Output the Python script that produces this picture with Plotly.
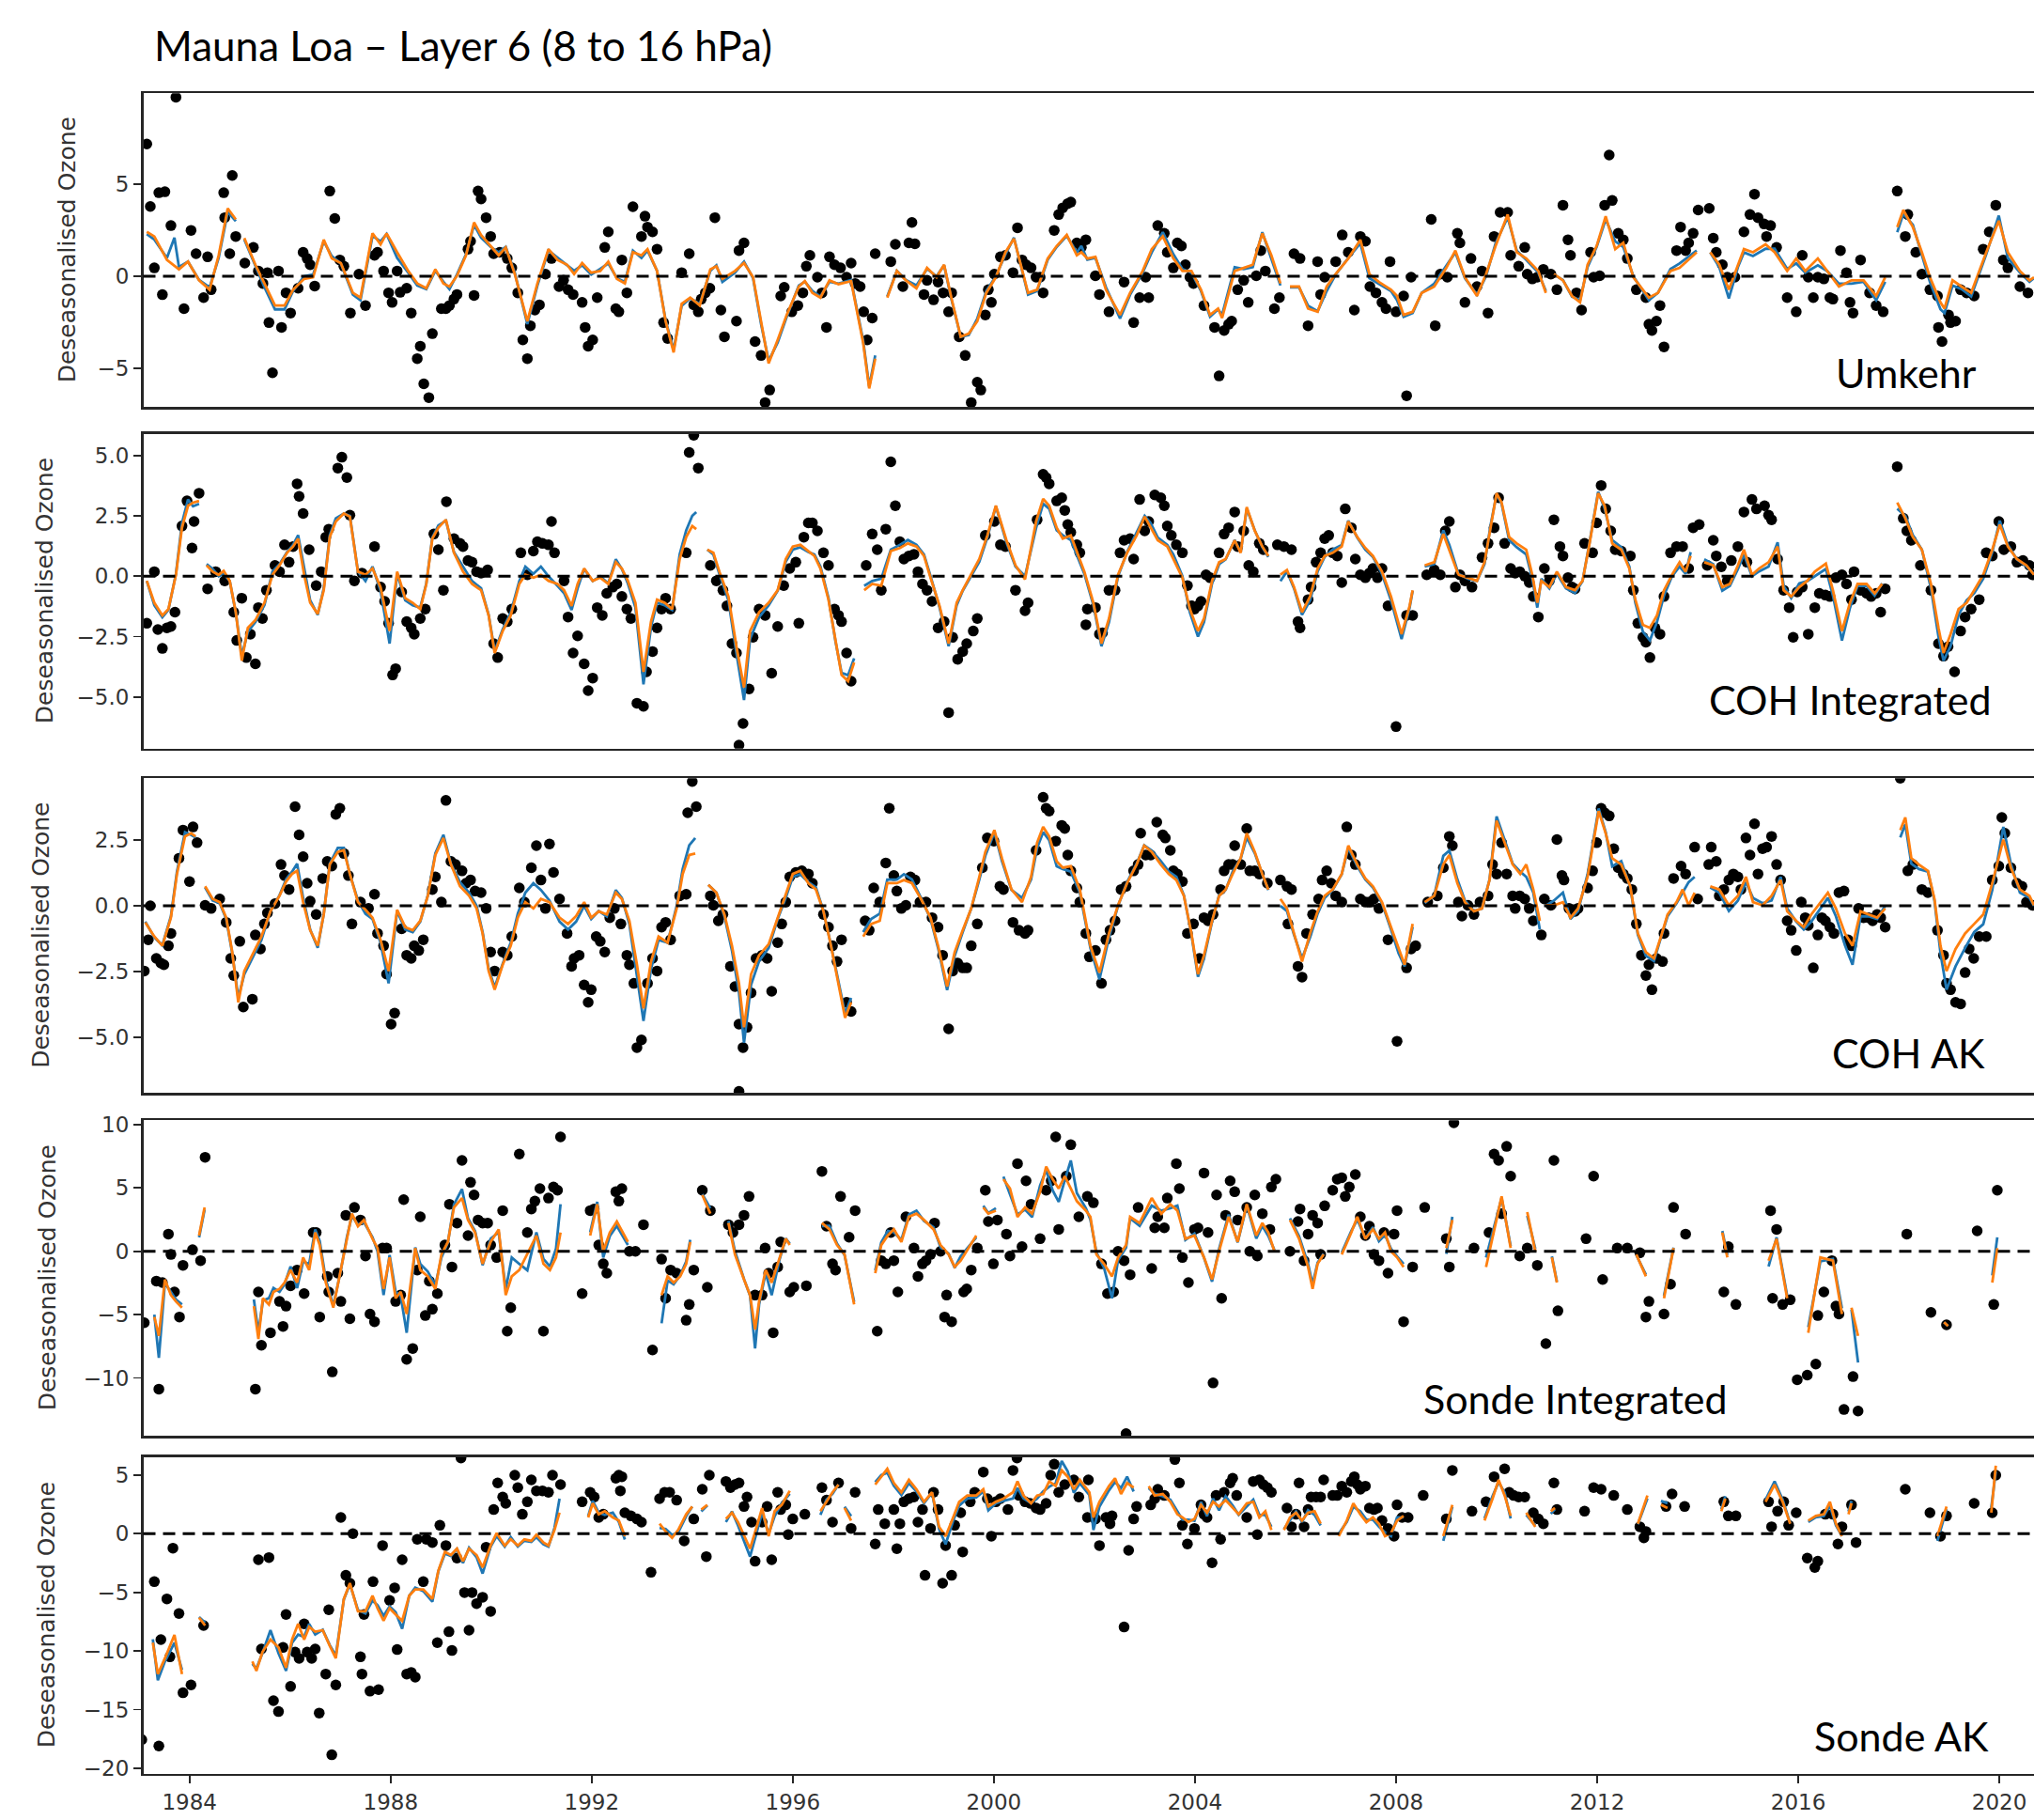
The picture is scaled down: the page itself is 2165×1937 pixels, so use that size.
import plotly.graph_objects as go

# ---------------- DATA (decimal year, deseasonalised ozone) ----------------
PANEL_NAMES = ["Umkehr", "COH Integrated", "COH AK", "Sonde Integrated", "Sonde AK"]
TITLE = "Mauna Loa – Layer 6 (8 to 16 hPa)"
Y_LABEL = "Deseasonalised Ozone"
X_TICKS = [1984, 1988, 1992, 1996, 2000, 2004, 2008, 2012, 2016, 2020]
Y_TICKS = [[-5, 0, 5], [-5, -2.5, 0, 2.5, 5], [-5, -2.5, 0, 2.5], [-10, -5, 0, 5, 10], [-20, -15, -10, -5, 0, 5]]
Y_TICKTEXT = [["−5", "0", "5"], ["−5.0", "−2.5", "0.0", "2.5", "5.0"], ["−5.0", "−2.5", "0.0", "2.5"],
              ["−10", "−5", "0", "5", "10"], ["−20", "−15", "−10", "−5", "0", "5"]]
Y_RANGES = [[-7.12, 9.96], [-7.14, 5.9], [-7.12, 4.85], [-14.58, 10.34], [-20.47, 6.54]]
X_RANGE = [1983.08, 2020.69]

UMK_DOTS = [
(1983.15,7.2),(1983.73,9.75),(1983.22,3.8),(1983.39,4.55),(1983.51,4.6),(1983.30,0.46),(1983.46,-1.0),(1983.63,2.76),
(1983.89,-1.76),(1984.03,2.5),(1984.13,1.23),(1984.28,-1.16),(1984.36,1.06),(1984.43,-0.73),(1984.68,4.55),(1984.70,3.19),
(1984.85,5.49),(1984.92,2.17),(1984.80,1.23),(1985.10,0.72),(1985.27,1.57),(1985.37,0.29),(1985.46,-0.39),(1985.55,0.2),
(1985.65,-5.25),(1985.58,-2.52),(1985.77,0.29),(1985.83,-2.78),(1985.92,-0.9),(1986.01,-2.0),(1986.16,-0.65),(1986.26,1.31),
(1986.34,0.97),(1986.40,0.63),(1986.49,-0.53),(1986.79,4.64),(1986.89,3.15),(1986.99,0.89),(1987.07,0.55),(1987.20,-2.0),
(1987.37,0.12),(1987.50,-1.59),(1987.68,1.14),(1987.74,1.31),(1987.86,0.29),(1987.96,-0.9),(1988.03,-1.42),(1988.13,0.29),
(1988.19,-0.87),(1988.32,-0.65),(1988.41,-2.0),(1988.53,-4.48),(1988.59,-3.8),(1988.66,-5.85),(1988.76,-6.6),(1988.83,-3.12),
(1989.01,-1.76),(1989.10,-1.76),(1989.17,-1.59),(1989.26,-1.24),(1989.32,-0.99),(1989.54,1.48),(1989.59,1.91),(1989.66,-1.04),
(1989.74,4.64),(1989.80,4.21),(1989.90,3.19),(1989.99,2.17),(1990.05,1.23),(1990.17,1.31),(1990.32,0.97),(1990.41,0.46),
(1990.53,-0.9),(1990.63,-3.46),(1990.72,-4.48),(1990.78,-2.69),(1990.87,-1.84),(1990.96,-1.55),(1991.08,0.12),(1991.20,0.97),
(1991.35,-0.56),(1991.44,-0.22),(1991.53,-0.73),(1991.63,-0.99),(1991.81,-1.42),(1991.87,-2.78),(1991.93,-3.8),(1992.02,-3.46),
(1992.11,-1.16),(1992.26,1.57),(1992.33,2.42),(1992.48,-1.76),(1992.54,-1.93),(1992.60,0.89),(1992.70,-0.9),(1992.82,3.79),
(1992.99,2.17),(1993.06,3.27),(1993.11,2.68),(1993.21,2.42),(1993.30,1.48),(1993.43,-2.52),(1993.51,-3.38),(1993.79,0.2),
(1993.94,1.23),(1994.03,-1.55),(1994.12,-1.93),(1994.18,-1.24),(1994.26,-0.9),(1994.35,-0.65),(1994.45,3.19),(1994.57,-1.84),
(1994.64,-3.29),(1994.88,-2.44),(1994.93,1.4),(1995.03,1.82),(1995.25,-3.55),(1995.37,-4.31),(1995.45,-6.87),(1995.54,-6.19),
(1995.76,-1.07),(1995.83,-0.6),(1995.98,-1.93),(1996.10,-1.59),(1996.20,-0.9),(1996.27,0.55),(1996.34,1.14),(1996.49,-0.05),
(1996.58,-0.9),(1996.67,-2.78),(1996.73,1.06),(1996.83,0.63),(1996.95,0.46),(1997.07,-0.05),(1997.16,0.72),(1997.24,-0.39),
(1997.34,-0.56),(1997.41,-1.93),(1997.48,-3.46),(1997.58,-2.27),(1997.64,1.23),(1997.95,0.8),(1998.04,1.74),(1998.19,-0.56),
(1998.31,1.82),(1998.37,2.93),(1998.43,1.77),(1998.61,-0.99),(1998.67,-0.22),(1998.80,-1.28),(1998.89,-0.31),(1998.99,-0.9),
(1999.10,-1.93),(1999.16,-0.9),(1999.31,-3.29),(1999.43,-4.31),(1999.55,-6.87),(1999.67,-5.76),(1999.74,-6.19),(1999.83,-2.1),
(1999.89,-0.73),(1999.95,-1.42),(2000.01,0.12),(2000.13,1.06),(2000.23,1.14),(2000.38,0.2),(2000.47,2.64),(2000.56,0.89),
(2000.64,0.63),(2000.74,0.46),(2000.84,-0.05),(2000.92,-0.05),(2000.98,-0.9),(2001.20,2.5),(2001.29,3.36),(2001.37,3.73),
(2001.47,3.96),(2001.53,4.04),(2001.65,1.82),(2001.74,1.57),(2001.83,1.99),
(2002.02,0.03),(2002.10,-0.99),(2002.29,-1.93),(2002.59,-0.31),(2002.78,-2.52),(2002.90,-1.16),(2003.02,-0.05),(2003.08,-1.16),
(2003.26,2.76),(2003.39,2.34),(2003.45,1.31),(2003.57,0.46),(2003.65,1.82),(2003.73,1.65),(2003.81,0.63),(2003.90,-0.05),
(2003.97,-0.39),(2004.18,-1.59),(2004.39,-2.78),(2004.48,-5.42),(2004.58,-2.95),(2004.67,-2.61),(2004.73,-2.44),(2004.85,-0.73),
(2004.97,-0.22),(2005.06,-1.42),(2005.22,0.03),(2005.31,1.4),(2005.40,0.29),(2005.58,-1.76),(2005.68,-1.16),(2005.97,1.23),
(2006.09,0.97),(2006.25,-2.69),(2006.44,0.8),(2006.50,-0.99),(2006.58,-0.05),(2006.80,0.8),(2006.93,2.25),(2007.05,1.31),
(2007.17,-1.84),(2007.29,2.17),(2007.39,1.91),(2007.48,-0.56),(2007.60,-0.9),(2007.72,-1.42),(2007.80,-1.76),(2007.88,0.8),
(2008.00,-1.93),(2008.15,-1.07),(2008.21,-6.5),(2008.30,-0.05),(2008.70,3.1),(2008.78,-2.69),(2008.88,0.12),(2009.02,-0.05),
(2009.22,2.34),(2009.27,1.82),(2009.37,-1.42),(2009.49,0.97),(2009.61,-0.56),(2009.71,0.29),(2009.83,-2.0),(2009.95,2.17),
(2010.07,3.48),(2010.22,3.48),(2010.28,1.14),(2010.44,0.55),(2010.56,1.57),(2010.61,0.12),(2010.71,-0.14),(2010.81,-0.05),
(2010.93,0.38),(2011.08,0.12),(2011.20,-0.73),(2011.32,3.87),(2011.42,1.99),(2011.47,1.14),(2011.59,-0.9),(2011.69,-1.84),
(2011.87,1.31),(2011.93,-0.05),(2012.05,0.03),(2012.15,3.87),(2012.24,6.6),(2012.30,4.13),(2012.42,2.34),(2012.52,1.99),
(2012.60,0.97),(2012.78,-0.73),(2012.97,-1.16),(2013.03,-2.61),(2013.09,-2.95),(2013.18,-2.44),(2013.25,-1.59),(2013.33,-3.84),
(2013.58,1.4),(2013.66,2.68),(2013.76,1.4),(2013.82,1.82),(2013.91,2.34),(2014.01,3.61),(2014.23,3.7),(2014.31,2.08),
(2014.37,1.31),(2014.49,0.63),(2014.59,-0.05),(2014.74,-0.05),(2014.92,2.42),(2015.04,3.36),(2015.13,4.47),(2015.20,3.19),
(2015.32,2.85),(2015.37,2.17),(2015.45,2.76),(2015.57,1.57),(2015.78,-1.16),(2015.96,-1.93),(2016.08,1.14),(2016.20,-0.05),
(2016.30,-1.16),(2016.39,-0.05),(2016.51,-0.14),(2016.63,-1.16),(2016.69,-1.24),(2016.84,1.4),(2016.96,0.2),(2017.03,-1.42),
(2017.09,-2.0),(2017.24,0.89),(2017.42,-0.9),(2017.55,-1.59),(2017.69,-1.93),(2017.97,4.64),(2018.13,2.17),(2018.18,3.36),
(2018.34,1.31),(2018.46,0.12),(2018.62,-0.73),(2018.77,-1.07),(2018.79,-2.78),(2018.86,-3.55),(2018.99,-2.1),(2019.03,-2.52),
(2019.13,-2.44),(2019.23,-0.73),(2019.35,-0.9),(2019.50,-1.07),(2019.68,1.48),(2019.80,2.42),(2019.93,3.87),(2020.08,0.89),
(2020.17,0.46),(2020.41,-0.56),(2020.57,-0.9)]

N = None
UMK_LINES = [  # (year, orange, blue)
(1983.15,2.42,2.3),(1983.30,2.17,2.0),(1983.55,0.89,1.0),(1983.70,0.55,2.1),(1983.79,0.38,0.5),(1983.97,0.80,0.8),
(1984.19,-0.22,-0.2),(1984.40,-0.73,-0.6),(1984.58,1.14,1.0),(1984.76,3.70,3.5),(1984.92,3.10,3.0),(N,N,N),
(1985.09,2.08,2.0),(1985.31,0.63,0.6),(1985.49,-0.39,-0.6),(1985.70,-1.59,-1.8),(1985.89,-1.59,-1.8),(1986.06,-0.73,-0.8),
(1986.28,-0.14,0.0),(1986.46,-0.05,0.1),(1986.67,1.99,1.9),(1986.83,0.97,1.1),(1987.01,0.72,0.7),(1987.25,-0.90,-1.0),
(1987.40,-1.16,-1.3),(1987.64,2.34,2.2),(1987.80,1.74,1.9),(1987.92,2.34,2.3),(1988.13,1.31,1.0),(1988.35,0.29,0.2),
(1988.53,-0.39,-0.5),(1988.71,-0.65,-0.7),(1988.89,0.38,0.3),(1989.05,-0.39,-0.3),(1989.17,-0.56,-0.7),(1989.32,0.03,0.1),
(1989.50,1.14,1.2),(1989.66,2.93,2.8),(1989.80,2.25,2.1),(1989.99,1.65,1.6),(1990.15,1.14,1.3),(1990.29,1.57,1.6),
(1990.47,0.12,0.2),(1990.72,-2.44,-2.6),(1990.92,-0.39,-0.5),(1991.14,1.48,1.4),(1991.32,0.89,1.0),(1991.51,0.63,0.6),
(1991.65,0.12,0.3),(1991.81,0.72,0.6),(1991.99,0.20,0.1),(1992.17,0.29,0.4),(1992.33,0.80,0.7),(1992.50,-0.14,-0.1),
(1992.66,-0.39,-0.3),(1992.82,1.31,1.4),(1992.99,1.14,1.0),(1993.11,1.48,1.4),(1993.30,0.29,0.3),(1993.47,-2.44,-2.4),
(1993.63,-4.14,-4.0),(1993.79,-1.50,-1.6),(1993.96,-1.16,-1.2),(1994.15,-1.59,-1.5),(1994.36,0.38,0.3),(1994.48,0.55,0.6),
(1994.60,-0.14,-0.3),(1994.85,0.29,0.2),(1995.03,0.72,0.8),(1995.21,-0.05,-0.1),(1995.37,-2.44,-2.6),(1995.52,-4.74,-4.6),
(1995.70,-3.46,-3.6),(1995.88,-2.10,-2.2),(1996.12,-0.56,-0.5),(1996.24,-0.26,-0.3),(1996.39,-0.90,-0.8),(1996.55,-1.16,-1.1),
(1996.73,-0.22,-0.3),(1996.91,-0.43,-0.4),(1997.16,-0.26,-0.2),(1997.40,-3.63,-3.5),(1997.52,-6.10,-6.0),(1997.64,-4.48,-4.3),
(N,N,N),
(1997.88,-1.16,-1.1),(1998.07,0.29,0.3),(1998.25,-0.22,-0.2),(1998.46,-0.65,-0.5),(1998.67,0.46,0.4),(1998.86,-0.05,0.0),
(1999.01,0.63,0.6),(1999.16,-1.24,-1.3),(1999.34,-3.29,-3.3),(1999.50,-3.12,-3.2),(1999.67,-2.44,-2.3),(1999.85,-0.90,-0.8),
(2000.04,-0.05,0.0),(2000.23,1.31,1.2),(2000.40,2.05,2.1),(2000.68,-0.90,-1.0),(2000.86,-0.73,-0.8),(2001.07,0.97,0.9),
(2001.25,1.65,1.6),(2001.45,2.25,2.2),(2001.65,1.14,1.3),(2001.74,1.31,1.65),(2001.86,0.97,0.9),(2002.02,1.06,1.0),
(2002.23,-0.73,-0.6),(2002.51,-2.10,-2.3),(2002.71,-0.90,-1.0),(2002.96,0.29,0.2),(2003.14,1.48,1.3),(2003.36,2.17,2.4),
(2003.57,0.97,1.2),(2003.75,0.29,0.4),(2003.93,0.29,0.2),(2004.12,-0.73,-0.8),(2004.30,-2.10,-2.2),(2004.46,-1.76,-1.8),
(2004.54,-2.27,-2.1),(2004.79,0.29,0.5),(2004.97,0.46,0.4),(2005.15,0.63,0.5),(2005.34,2.34,2.4),(2005.52,1.14,1.0),
(2005.70,-0.39,-0.5),(N,N,N),
(2005.89,-0.56,-0.6),(2006.07,-0.56,-0.6),(2006.25,-1.76,-1.6),(2006.44,-1.93,-1.9),(2006.62,-0.56,-0.8),(2006.80,0.12,0.1),
(2007.05,0.97,1.0),(2007.29,1.99,1.8),(2007.47,0.12,-0.1),(2007.66,-0.31,-0.4),(2007.90,-0.73,-0.8),(2008.02,-1.07,-1.3),
(2008.15,-2.10,-2.2),(2008.33,-1.93,-2.0),(2008.51,-0.90,-0.9),(2008.76,-0.56,-0.4),(2009.00,0.46,0.6),(2009.18,1.40,1.3),
(2009.37,-0.05,-0.1),(2009.61,-1.07,-1.0),(2009.79,0.12,0.0),(2009.98,1.65,1.8),(2010.22,3.36,3.2),(2010.40,1.31,1.4),
(2010.59,0.97,0.9),(2010.83,0.29,0.2),(2010.98,-0.90,-0.8),(N,N,N),
(2011.14,0.12,0.1),(2011.32,-0.22,-0.2),(2011.50,-1.07,-1.1),(2011.66,-1.42,-1.3),(2011.81,0.63,0.5),(2011.99,1.65,1.6),
(2012.17,3.27,3.1),(2012.36,1.48,1.9),(2012.52,1.82,1.6),(2012.72,-0.05,0.0),(2013.03,-1.16,-1.3),(2013.21,-0.90,-0.9),
(2013.46,0.29,0.4),(2013.64,0.46,0.7),(2013.98,1.31,1.4),(N,N,N),
(2014.25,1.31,1.3),(2014.43,0.63,0.5),(2014.62,-0.73,-1.2),(2014.80,0.63,0.5),(2014.92,1.48,1.3),(2015.10,1.31,1.1),
(2015.35,1.74,1.5),(2015.53,1.31,1.5),(2015.78,0.29,0.4),(2015.96,0.97,0.7),(2016.14,0.29,0.2),(2016.39,0.97,0.6),
(2016.57,0.29,0.3),(2016.81,-0.56,-0.4),(2017.06,-0.22,-0.4),(2017.30,-0.22,-0.3),(2017.55,-1.07,-1.3),(2017.73,-0.05,-0.3),
(N,N,N),
(2017.97,2.68,2.4),(2018.09,3.61,3.4),(2018.28,2.68,2.8),(2018.46,1.31,1.2),(2018.62,-0.05,-0.3),(2018.83,-1.42,-1.8),
(2018.91,-1.76,-2.0),(2019.07,-0.22,-0.5),(2019.25,-0.56,-0.7),(2019.44,-0.90,-1.1),(2019.74,1.31,1.2),(2019.99,3.02,3.3),
(2020.17,1.31,1.0),(2020.41,0.29,0.2),(2020.60,-0.22,-0.3),(2020.69,-0.05,-0.1)]

COHI_DOTS = [
(1983.15,-1.95),(1983.30,0.19),(1983.37,-2.21),(1983.46,-2.99),(1983.55,-2.14),(1983.63,-2.08),(1983.71,-1.49),(1983.85,2.08),
(1983.95,3.12),(1984.05,1.17),(1984.09,2.27),(1984.19,3.44),(1984.36,-0.52),(1984.52,0.19),(1984.70,-0.19),(1984.88,-1.49),
(1984.94,-2.66),(1985.04,-0.91),(1985.13,-3.37),(1985.21,-2.4),(1985.31,-3.63),(1985.37,-1.3),(1985.45,-1.75),(1985.53,-0.58),
(1985.70,0.45),(1985.79,0.19),(1985.89,1.3),(1985.98,0.58),(1986.06,1.23),(1986.14,3.83),(1986.18,3.31),(1986.26,2.6),
(1986.38,1.1),(1986.52,-0.39),(1986.62,0.19),(1986.71,1.62),(1986.77,1.95),(1986.95,4.48),(1987.03,4.93),(1987.13,4.09),
(1987.19,2.53),(1987.28,-0.19),(1987.43,0.13),(1987.68,1.23),(1987.80,-0.45),(1987.88,-1.04),(1987.96,-1.95),(1988.04,-4.09),
(1988.10,-3.83),(1988.22,-0.65),(1988.32,-1.88),(1988.41,-2.14),(1988.47,-2.4),(1988.59,-1.75),(1988.69,-1.36),(1988.86,1.75),
(1988.95,1.1),(1989.05,-0.58),(1989.11,3.09),(1989.26,1.56),(1989.38,1.36),(1989.44,1.23),(1989.54,0.65),(1989.62,0.58),
(1989.71,0.19),(1989.80,0.13),(1989.93,0.26),(1990.05,-2.79),(1990.13,-3.37),(1990.23,-1.75),(1990.32,-1.88),(1990.41,-1.36),
(1990.59,0.97),(1990.72,0.06),(1990.84,1.04),(1990.92,1.43),(1991.02,1.36),(1991.14,1.3),(1991.20,2.27),(1991.26,0.97),
(1991.45,-0.19),(1991.53,-1.69),(1991.63,-3.18),(1991.72,-2.47),(1991.85,-3.63),(1991.93,-4.74),(1992.02,-4.22),(1992.11,-1.3),
(1992.21,-1.62),(1992.30,-0.71),(1992.42,-0.45),(1992.50,-0.32),(1992.60,-0.84),(1992.70,-1.36),(1992.78,-1.75),(1992.90,-5.26),
(1993.03,-5.39),(1993.09,-3.96),(1993.21,-3.12),(1993.30,-2.14),(1993.39,-1.36),(1993.47,-0.91),(1993.57,-1.36),(1993.88,0.97),
(1993.94,5.13),(1994.03,5.84),(1994.12,4.48),(1994.36,0.45),(1994.48,-0.19),(1994.61,-0.58),(1994.69,-1.23),(1994.79,-2.79),
(1994.88,-3.18),(1995.01,-6.1),(1994.93,-7.0),(1995.13,-4.67),(1995.21,-2.53),(1995.33,-1.36),(1995.45,-1.62),(1995.58,-4.02),
(1995.70,-2.08),(1995.82,-0.39),(1995.94,0.32),(1996.06,0.58),(1996.12,-1.95),(1996.22,1.62),(1996.31,2.21),(1996.39,2.21),
(1996.49,1.88),(1996.61,0.97),(1996.71,0.45),(1996.83,-1.36),(1996.91,-1.62),(1996.97,-1.88),(1997.07,-3.18),(1997.16,-4.35),
(1997.46,0.45),(1997.58,1.75),(1997.68,1.1),(1997.76,-0.58),(1997.85,1.95),(1997.95,4.74),(1998.04,2.92),(1998.13,1.43),
(1998.21,0.71),(1998.31,0.84),(1998.41,0.91),(1998.49,0.19),(1998.58,-0.32),(1998.67,-0.58),(1998.77,-1.04),(1998.89,-2.14),
(1999.01,-1.88),(1999.10,-5.65),(1999.18,-2.53),(1999.28,-3.44),(1999.38,-3.12),(1999.46,-2.79),(1999.59,-2.27),(1999.67,-1.75),
(1999.83,1.69),(2000.01,2.27),(2000.13,1.3),(2000.23,1.23),(2000.43,-0.58),(2000.62,-1.43),(2000.68,-1.1),(2000.86,2.34),
(2000.98,4.22),(2001.04,4.09),(2001.10,3.83),(2001.25,3.12),(2001.35,3.25),(2001.41,2.73),(2001.47,2.14),(2001.53,1.82),
(2001.65,1.3),(2001.71,0.97),(2001.83,-2.01),
(2001.86,-1.36),(2002.02,-1.3),(2002.10,-2.4),(2002.16,-2.34),(2002.29,-0.58),(2002.41,-0.58),(2002.51,0.97),(2002.59,1.49),
(2002.71,1.56),(2002.78,0.71),(2002.90,3.18),(2003.00,1.88),(2003.08,2.27),(2003.20,3.37),(2003.32,3.25),(2003.39,2.92),
(2003.45,2.08),(2003.53,1.69),(2003.63,1.3),(2003.75,0.97),(2003.85,-0.39),(2003.93,-1.23),(2003.99,-1.36),(2004.06,-1.23),
(2004.12,-1.04),(2004.22,0.06),(2004.30,-0.06),(2004.48,0.97),(2004.58,1.75),(2004.67,2.01),(2004.79,2.66),(2004.85,1.23),
(2004.97,1.88),(2005.07,0.45),(2005.16,0.19),(2005.28,1.36),(2005.36,1.1),(2005.64,1.3),(2005.77,1.23),(2005.92,1.1),
(2006.05,-1.88),(2006.09,-2.14),(2006.25,-0.97),(2006.31,-0.45),(2006.41,0.58),(2006.50,0.97),(2006.58,1.56),(2006.66,1.69),
(2006.74,0.97),(2006.83,0.84),(2006.92,-0.26),(2006.99,2.79),(2007.11,2.01),(2007.19,0.71),(2007.29,0.06),(2007.39,-0.06),
(2007.47,0.13),(2007.54,0.32),(2007.63,-0.06),(2007.72,0.32),(2007.84,-1.23),(2008.00,-6.23),(2008.21,-1.62),(2008.33,-1.62),
(2008.61,0.06),(2008.76,0.26),(2008.88,0.06),(2008.98,1.88),(2009.06,2.27),(2009.18,-0.45),(2009.27,0.06),(2009.37,-0.19),
(2009.51,-0.45),(2009.71,0.78),(2009.83,1.36),(2009.95,2.01),(2010.04,3.25),(2010.16,1.36),(2010.28,0.32),(2010.37,0.13),
(2010.46,0.19),(2010.56,0.0),(2010.65,-0.26),(2010.73,-0.84),(2010.83,-1.69),(2010.95,0.32),(2011.05,-0.19),(2011.14,2.34),
(2011.26,1.23),(2011.32,0.84),(2011.42,-0.06),(2011.50,-0.45),(2011.56,-0.52),(2011.75,1.36),(2011.91,0.97),(2011.99,2.21),
(2012.08,3.76),(2012.17,2.79),(2012.27,1.88),(2012.36,1.1),(2012.48,1.04),(2012.66,0.84),(2012.72,-0.58),(2012.81,-1.95),
(2012.91,-2.53),(2012.97,-2.73),(2013.05,-3.37),(2013.15,-2.14),(2013.25,-2.4),(2013.33,-0.84),(2013.46,0.97),(2013.58,1.23),
(2013.70,1.23),(2013.82,0.32),(2013.91,2.01),(2014.03,2.14),(2014.19,0.45),(2014.31,1.49),(2014.37,0.84),(2014.47,0.39),
(2014.59,-0.19),(2014.67,0.65),(2014.80,1.23),(2014.92,2.66),(2014.98,0.58),(2015.08,3.18),(2015.17,2.79),(2015.33,2.92),
(2015.41,2.53),(2015.47,2.34),(2015.59,0.71),(2015.71,-0.58),(2015.82,-1.3),(2015.90,-2.53),(2015.98,-0.65),(2016.08,-0.45),
(2016.20,-2.4),(2016.33,-1.3),(2016.42,-0.71),(2016.54,-0.78),(2016.63,-0.84),(2016.75,-0.06),(2016.87,0.06),(2016.96,-0.32),
(2017.06,-0.97),(2017.11,0.19),(2017.24,-0.58),(2017.36,-0.71),(2017.45,-0.84),(2017.55,-0.71),(2017.64,-1.49),(2017.73,-0.52),
(2017.97,4.54),(2018.09,2.4),(2018.16,1.88),(2018.25,1.49),(2018.43,0.45),(2018.64,-0.58),(2018.79,-2.79),(2018.89,-3.31),
(2018.98,-2.92),(2019.11,-3.96),(2019.23,-2.27),(2019.32,-1.69),(2019.44,-1.36),(2019.60,-0.97),(2019.74,0.97),(2019.86,0.84),
(2019.99,2.27),(2020.09,1.1),(2020.23,1.23),(2020.35,0.58),(2020.47,0.65),(2020.60,0.45),(2020.66,0.06)]

COHI_LINES = [
(1983.15,-0.19,-0.2),(1983.30,-1.10,-1.2),(1983.46,-1.62,-1.7),(1983.58,-1.36,-1.4),(1983.73,0.06,0.1),(1983.85,2.01,2.2),
(1983.97,2.92,3.18),(1984.07,3.05,2.9),(1984.19,3.12,3.0),(N,N,N),
(1984.34,0.45,0.5),(1984.46,0.19,0.3),(1984.58,0.06,0.0),(1984.68,0.22,0.1),(1984.80,-0.19,-0.2),(1984.92,-1.49,-1.5),
(1985.04,-3.50,-3.3),(1985.16,-2.14,-2.3),(1985.31,-1.82,-1.9),(1985.49,-1.10,-1.2),(1985.65,0.06,0.2),(1985.79,0.45,0.5),
(1985.94,0.97,1.0),(1986.06,1.23,1.3),(1986.16,1.56,1.7),(1986.28,0.06,0.3),(1986.40,-1.10,-1.0),(1986.55,-1.56,-1.6),
(1986.67,-0.58,-0.5),(1986.79,1.62,1.7),(1986.91,2.27,2.4),(1987.07,2.60,2.6),(1987.19,2.47,2.5),(1987.35,0.19,0.2),
(1987.50,0.06,-0.2),(1987.64,0.32,0.4),(1987.80,-0.45,-0.6),(1987.98,-2.27,-2.79),(1988.13,0.19,0.1),(1988.29,-0.91,-1.0),
(1988.44,-1.10,-1.2),(1988.59,-1.36,-1.3),(1988.71,-0.32,-0.3),(1988.83,1.56,1.6),(1988.95,2.01,2.1),(1989.10,2.34,2.3),
(1989.26,0.97,1.0),(1989.44,0.19,0.4),(1989.62,-0.32,-0.2),(1989.80,-0.58,-0.5),(1989.95,-1.62,-1.6),(1990.07,-3.18,-3.1),
(1990.23,-2.27,-2.2),(1990.39,-1.62,-1.5),(1990.56,-0.32,-0.2),(1990.68,0.06,0.4),(1990.84,-0.06,0.1),(1990.99,0.06,0.4),
(1991.14,-0.19,0.0),(1991.32,-0.32,-0.4),(1991.45,-0.58,-0.7),(1991.60,-1.23,-1.4),(1991.72,-0.32,-0.5),(1991.85,0.32,0.3),
(1992.02,-0.19,-0.2),(1992.17,-0.06,0.0),(1992.33,-0.32,-0.3),(1992.48,0.58,0.7),(1992.60,0.32,0.3),(1992.72,-0.19,-0.3),
(1992.87,-1.10,-1.3),(1993.03,-3.96,-4.48),(1993.18,-1.88,-2.1),(1993.30,-0.97,-1.1),(1993.45,-1.10,-1.2),(1993.60,-1.36,-1.4),
(1993.75,0.71,0.9),(1993.88,1.62,1.9),(1994.00,2.08,2.5),(1994.08,1.95,2.66),(N,N,N),
(1994.30,1.10,1.1),(1994.42,0.97,0.9),(1994.54,0.19,0.1),(1994.72,-0.84,-1.0),(1994.88,-2.92,-3.2),(1995.03,-4.61,-5.13),
(1995.15,-2.27,-2.6),(1995.33,-1.49,-1.7),(1995.52,-1.10,-1.2),(1995.70,-0.58,-0.6),(1995.86,0.71,0.6),(1996.00,1.23,1.1),
(1996.15,1.30,1.2),(1996.31,1.04,1.0),(1996.43,0.84,0.9),(1996.55,0.32,0.4),(1996.71,-0.97,-0.9),(1996.85,-2.66,-2.7),
(1996.97,-4.09,-4.0),(1997.10,-4.35,-4.1),(1997.22,-3.57,-3.4),(N,N,N),
(1997.42,-0.58,-0.4),(1997.58,-0.32,-0.2),(1997.76,-0.39,-0.1),(1997.95,1.04,1.1),(1998.13,1.17,1.3),(1998.29,1.36,1.5),
(1998.46,1.23,1.3),(1998.61,0.84,0.9),(1998.74,-0.06,0.0),(1998.92,-1.23,-1.3),(1999.10,-2.79,-2.9),(1999.26,-1.10,-1.2),
(1999.38,-0.58,-0.6),(1999.55,0.06,0.0),(1999.71,0.71,0.6),(1999.87,1.69,1.6),(2000.04,2.92,2.9),(2000.25,1.49,1.4),
(2000.43,0.45,0.4),(2000.62,-0.13,0.0),(2000.84,2.27,2.0),(2000.98,3.21,3.0),(2001.10,2.92,2.8),(2001.25,2.01,1.9),
(2001.37,1.56,1.7),(2001.53,1.69,1.5),(2001.80,0.19,0.1),(2001.98,-1.10,-1.2),(2002.14,-2.79,-2.9),(2002.29,-1.75,-1.9),
(2002.47,0.06,0.0),(2002.65,0.97,1.0),(2002.84,1.69,1.8),(2003.00,2.47,2.5),(2003.12,2.01,2.2),(2003.26,1.49,1.6),
(2003.45,1.23,1.3),(2003.57,0.71,0.9),(2003.75,-0.06,0.0),(2003.90,-1.36,-1.5),(2004.06,-2.27,-2.5),(2004.18,-1.75,-1.9),
(2004.34,-0.19,-0.3),(2004.48,0.58,0.5),(2004.61,0.71,0.7),(2004.79,1.49,1.5),(2004.91,0.97,1.0),(2005.03,2.86,2.8),
(2005.19,1.88,1.9),(2005.34,1.23,1.2),(2005.46,0.84,0.8),(N,N,N),
(2005.70,0.06,-0.2),(2005.83,0.26,0.2),(2005.97,-0.45,-0.5),(2006.13,-1.49,-1.6),(2006.29,-0.84,-1.0),(2006.44,0.32,0.2),
(2006.58,0.84,0.8),(2006.74,0.97,1.1),(2006.92,1.23,1.3),(2007.05,2.27,2.3),(2007.23,1.62,1.6),(2007.39,1.17,1.1),
(2007.54,0.84,0.8),(2007.72,0.19,0.1),(2007.90,-0.84,-1.0),(2008.11,-2.40,-2.6),(2008.27,-1.23,-1.3),(2008.33,-0.58,-0.6),
(N,N,N),
(2008.57,0.45,0.4),(2008.76,0.58,0.5),(2008.94,1.75,1.9),(2009.06,1.10,1.3),(2009.24,0.06,0.1),(2009.43,-0.06,-0.1),
(2009.61,-0.19,-0.2),(2009.76,0.58,0.5),(2009.88,2.01,2.1),(2010.00,3.44,3.4),(2010.10,3.05,3.0),(2010.25,1.62,1.5),
(2010.40,1.36,1.2),(2010.59,1.10,0.9),(2010.71,0.06,-0.1),(2010.81,-1.10,-1.3),(2010.89,-0.19,-0.1),(2011.05,-0.45,-0.5),
(2011.20,0.19,0.1),(2011.38,-0.45,-0.5),(2011.56,-0.58,-0.7),(2011.71,-0.19,-0.2),(2011.85,1.36,1.4),(2012.02,3.44,3.5),
(2012.15,2.92,2.8),(2012.30,1.36,1.5),(2012.48,1.10,1.2),(2012.64,0.32,0.4),(2012.76,-0.97,-1.1),(2012.91,-2.01,-2.3),
(2013.05,-2.14,-2.66),(2013.19,-1.62,-1.9),(2013.33,-0.58,-0.8),(2013.49,0.06,0.0),(2013.64,0.58,0.4),(2013.76,0.19,0.1),
(2013.86,0.84,1.0),(N,N,N),
(2014.13,0.58,0.7),(2014.31,0.45,0.5),(2014.49,-0.45,-0.6),(2014.64,-0.32,-0.4),(2014.80,0.45,0.3),(2014.92,1.10,0.9),
(2015.08,0.06,0.0),(2015.22,0.32,0.2),(2015.41,0.58,0.4),(2015.59,1.23,1.4),(2015.71,-0.58,-0.4),(2015.86,-0.84,-0.9),
(2016.02,-0.45,-0.3),(2016.18,-0.19,-0.2),(2016.33,0.19,0.0),(2016.55,0.52,0.3),(2016.69,-0.58,-0.8),(2016.87,-2.27,-2.66),
(2017.03,-1.10,-1.3),(2017.18,-0.32,-0.4),(2017.36,-0.32,-0.4),(2017.52,-0.71,-0.8),(2017.67,-0.32,-0.3),(N,N,N),
(2017.97,3.05,2.8),(2018.13,2.40,2.5),(2018.28,1.62,1.7),(2018.46,1.10,1.1),(2018.64,-0.32,-0.5),(2018.79,-2.14,-2.5),
(2018.89,-3.18,-3.5),(2019.03,-2.40,-2.9),(2019.19,-1.36,-1.6),(2019.35,-1.10,-1.0),(2019.50,-0.58,-0.7),(2019.68,0.06,-0.1),
(2019.86,1.10,1.0),(2020.01,2.14,2.3),(2020.17,1.23,1.3),(2020.35,0.71,0.7),(2020.54,0.45,0.4),(2020.69,0.06,0.1)]

COHAK_DOTS = [
(1983.10,-2.48),(1983.18,-1.29),(1983.22,0.0),(1983.34,-2.0),(1983.43,-2.18),(1983.49,-2.24),(1983.58,-1.52),(1983.63,-1.05),
(1983.79,1.81),(1983.87,2.88),(1984.00,0.92),(1984.07,3.0),(1984.15,2.4),(1984.31,0.02),(1984.43,-0.1),(1984.60,0.26),
(1984.73,-0.63),(1984.82,-2.0),(1984.88,-2.65),(1985.00,-1.35),(1985.07,-3.85),(1985.25,-3.55),(1985.31,-1.11),(1985.41,-1.64),
(1985.49,-0.69),(1985.55,-0.27),(1985.70,0.08),(1985.82,1.57),(1985.89,1.15),(1985.98,0.62),(1986.10,3.77),(1986.18,2.7),
(1986.26,1.87),(1986.34,0.86),(1986.40,0.18),(1986.52,-0.33),(1986.65,1.04),(1986.74,1.69),(1986.83,1.51),(1986.91,3.48),
(1986.99,3.71),(1987.07,1.99),(1987.16,1.15),(1987.23,-0.69),(1987.40,0.14),(1987.56,-0.1),(1987.68,0.44),(1987.74,-1.05),
(1987.86,-1.52),(1987.92,-2.6),(1988.01,-4.5),(1988.08,-4.08),(1988.22,-0.87),(1988.32,-1.88),(1988.41,-2.0),(1988.47,-1.52),
(1988.56,-1.7),(1988.65,-1.29),(1988.83,0.62),(1988.89,1.1),(1989.01,0.14),(1989.10,4.01),(1989.20,1.69),(1989.29,1.57),
(1989.42,1.33),(1989.50,0.86),(1989.59,0.98),(1989.68,0.56),(1989.80,0.5),(1989.90,-0.1),(1989.99,-1.76),(1990.07,-2.48),
(1990.23,-1.76),(1990.32,-1.88),(1990.41,-1.17),(1990.56,0.68),(1990.66,0.14),(1990.80,1.45),(1990.90,2.29),(1990.99,0.98),
(1991.08,-0.1),(1991.16,2.35),(1991.24,1.27),(1991.36,0.26),(1991.51,-1.05),(1991.60,-2.3),(1991.65,-2.0),(1991.75,-1.88),
(1991.85,-3.01),(1991.93,-3.67),(1991.99,-3.19),(1992.09,-1.17),(1992.17,-1.35),(1992.26,-1.76),(1992.36,-0.45),(1992.45,-0.1),
(1992.58,-0.69),(1992.70,-1.88),(1992.75,-2.24),(1992.84,-2.95),(1992.90,-5.39),(1992.99,-5.1),(1993.11,-2.95),(1993.21,-2.0),
(1993.30,-2.48),(1993.39,-0.81),(1993.47,-0.63),(1993.57,-1.29),(1993.75,0.38),(1993.88,0.44),(1993.91,3.54),(1994.00,4.73),
(1994.08,3.77),(1994.36,0.38),(1994.42,0.02),(1994.52,-0.57),(1994.61,-0.33),(1994.76,-2.3),(1994.85,-3.07),(1994.93,-4.5),
(1995.01,-5.39),(1994.93,-7.06),(1995.09,-4.62),(1995.17,-3.31),(1995.27,-2.0),(1995.39,-1.88),(1995.49,-2.0),(1995.58,-3.25),
(1995.70,-1.4),(1995.78,-0.69),(1995.86,0.14),(1995.94,1.1),(1996.06,1.27),(1996.18,1.33),(1996.31,1.21),(1996.39,0.86),
(1996.61,-0.33),(1996.71,-0.81),(1996.79,-1.52),(1996.88,-2.12),(1996.97,-1.29),(1997.07,-3.67),(1997.16,-4.02),(1997.44,-0.57),
(1997.52,-0.93),(1997.61,0.68),(1997.73,0.14),(1997.85,1.63),(1997.92,3.71),(1998.01,1.15),(1998.07,0.56),(1998.16,-0.1),
(1998.25,0.02),(1998.34,1.1),(1998.43,0.98),(1998.53,0.14),(1998.65,0.14),(1998.77,-0.45),(1998.89,-0.81),(1998.98,-1.88),
(1999.10,-4.68),(1999.18,-2.48),(1999.28,-2.18),(1999.38,-2.36),(1999.46,-2.36),(1999.55,-1.52),(1999.67,-0.69),(1999.77,1.45),
(1999.87,2.58),(2000.00,2.46),(2000.12,0.74),(2000.19,0.62),(2000.38,-0.63),(2000.50,-0.93),(2000.62,-1.05),(2000.68,-0.93),
(2000.84,2.11),(2000.98,4.13),(2001.04,3.71),(2001.10,3.6),(2001.23,2.46),(2001.35,3.06),(2001.41,2.94),(2001.47,1.93),
(2001.53,1.33),(2001.65,0.68),(2001.71,0.14),(2001.83,-1.05),(2001.90,-1.94),
(2002.02,-1.7),(2002.14,-2.95),(2002.23,-1.29),(2002.31,-0.93),(2002.41,-0.57),(2002.53,0.62),(2002.63,0.74),(2002.78,1.33),
(2002.87,1.57),(2002.92,2.76),(2003.02,1.93),(2003.12,1.93),(2003.24,3.18),(2003.36,2.7),(2003.41,2.58),(2003.51,2.11),
(2003.57,1.33),(2003.65,1.21),(2003.75,0.92),(2003.85,-1.05),(2003.97,-0.69),(2004.09,-2.0),(2004.18,-0.45),(2004.26,-0.57),
(2004.36,-0.33),(2004.51,0.62),(2004.58,1.33),(2004.67,1.57),(2004.75,1.57),(2004.79,2.29),(2004.91,1.57),(2005.03,2.94),
(2005.09,1.33),(2005.19,1.33),(2005.28,1.21),(2005.44,0.86),(2005.70,0.98),(2005.83,0.74),(2005.92,0.62),(2005.85,-0.69),
(2006.05,-2.3),(2006.13,-2.71),(2006.22,-1.05),(2006.34,-0.33),(2006.46,0.26),(2006.53,0.98),(2006.62,1.33),(2006.71,0.86),
(2006.80,0.38),(2006.92,0.14),(2007.02,3.0),(2007.11,1.93),(2007.19,1.57),(2007.29,0.26),(2007.39,0.14),(2007.47,0.14),
(2007.56,0.26),(2007.66,-0.1),(2007.84,-1.29),(2008.02,-5.15),(2008.21,-2.36),(2008.30,-1.64),(2008.39,-1.52),(2008.63,0.14),
(2008.82,0.38),(2008.94,1.45),(2009.06,2.64),(2009.12,2.29),(2009.24,0.14),(2009.31,-0.39),(2009.43,0.02),(2009.55,-0.33),
(2009.67,0.14),(2009.83,0.38),(2009.92,1.57),(2010.00,1.21),(2010.10,2.4),(2010.20,1.21),(2010.32,0.38),(2010.37,-0.1),
(2010.46,0.38),(2010.56,0.26),(2010.65,-0.1),(2010.73,-0.57),(2010.89,-1.11),(2010.95,0.26),(2011.08,0.02),(2011.20,2.52),
(2011.30,1.15),(2011.34,0.98),(2011.44,-0.1),(2011.56,-0.21),(2011.62,-0.1),(2011.81,0.68),(2011.91,1.33),(2011.99,2.4),
(2012.08,3.71),(2012.15,3.54),(2012.24,3.42),(2012.33,2.17),(2012.42,1.45),(2012.52,1.21),(2012.60,1.04),(2012.69,0.62),
(2012.78,-0.69),(2012.88,-1.88),(2012.97,-2.65),(2013.03,-2.24),(2013.09,-3.19),(2013.18,-2.0),(2013.30,-2.12),(2013.33,-1.05),
(2013.52,1.04),(2013.67,1.51),(2013.76,1.21),(2013.94,2.23),(2014.00,0.26),(2014.22,1.57),(2014.27,2.23),(2014.37,1.69),
(2014.43,0.38),(2014.52,0.62),(2014.62,0.98),(2014.71,1.21),(2014.80,1.1),(2014.86,0.62),(2014.96,2.58),(2015.04,1.93),
(2015.13,3.12),(2015.20,1.21),(2015.29,2.17),(2015.37,2.23),(2015.47,2.64),(2015.57,1.57),(2015.65,0.98),(2015.78,-0.57),
(2015.86,-0.93),(2015.96,-1.7),(2016.06,0.14),(2016.14,-0.45),(2016.20,-0.75),(2016.30,-2.36),(2016.39,-1.11),(2016.47,-0.45),
(2016.54,-0.57),(2016.63,-0.81),(2016.71,-1.05),(2016.81,0.5),(2016.91,0.56),(2016.99,-1.29),(2017.06,-1.52),(2017.20,-0.1),
(2017.30,-0.45),(2017.40,-0.45),(2017.48,-0.57),(2017.57,-0.33),(2017.64,-0.45),(2017.73,-0.81),(2018.03,4.85),(2018.18,1.33),
(2018.28,1.57),(2018.46,0.62),(2018.58,0.5),(2018.77,-0.93),(2018.89,-1.88),(2018.95,-2.95),(2019.03,-3.19),(2019.13,-3.67),
(2019.23,-3.73),(2019.32,-2.54),(2019.40,-1.64),(2019.49,-2.0),(2019.60,-1.17),(2019.74,-1.17),(2019.86,0.98),(2019.99,1.51),
(2020.05,3.36),(2020.11,2.76),(2020.23,1.45),(2020.35,0.86),(2020.45,0.74),(2020.54,0.14),(2020.66,0.02)]

COHAK_LINES = [
(1983.12,-0.63,-0.6),(1983.30,-1.17,-1.2),(1983.46,-1.52,-1.5),(1983.63,-0.45,-0.4),(1983.75,1.21,1.3),(1983.91,2.64,2.8),
(1984.03,2.76,2.7),(1984.12,2.64,2.6),(N,N,N),
(1984.31,0.74,0.7),(1984.46,0.26,0.2),(1984.60,0.14,0.1),(1984.73,-0.45,-0.5),(1984.85,-1.76,-1.8),(1984.97,-3.67,-3.5),
(1985.09,-2.48,-2.6),(1985.25,-1.88,-2.0),(1985.43,-1.17,-1.3),(1985.61,-0.21,-0.2),(1985.79,0.38,0.4),(1985.92,0.92,1.0),
(1986.04,1.21,1.3),(1986.14,1.33,1.6),(1986.26,0.14,0.3),(1986.40,-0.93,-0.9),(1986.55,-1.52,-1.6),(1986.67,-0.33,-0.3),
(1986.79,1.57,1.6),(1986.95,2.05,2.2),(1987.07,2.11,2.2),(1987.19,1.21,1.2),(1987.35,0.14,0.2),(1987.50,-0.15,-0.3),
(1987.64,-0.45,-0.5),(1987.80,-1.29,-1.4),(1987.96,-2.48,-2.95),(1988.13,-0.15,-0.2),(1988.29,-0.81,-0.9),(1988.44,-0.93,-1.0),
(1988.59,-0.57,-0.6),(1988.74,0.38,0.4),(1988.89,1.93,2.0),(1989.05,2.58,2.7),(1989.20,1.57,1.6),(1989.38,0.74,0.9),
(1989.56,0.38,0.5),(1989.71,-0.10,0.0),(1989.83,-1.05,-1.0),(1989.95,-2.48,-2.4),(1990.07,-3.19,-3.1),(1990.23,-2.24,-2.2),
(1990.39,-1.52,-1.4),(1990.53,-0.45,-0.3),(1990.68,0.14,0.5),(1990.84,-0.10,0.86),(1990.99,0.26,0.6),(1991.16,0.14,0.2),
(1991.36,-0.45,-0.6),(1991.53,-0.69,-0.9),(1991.69,-0.39,-0.6),(1991.85,0.14,0.0),(1991.99,-0.45,-0.5),(1992.14,-0.21,-0.2),
(1992.30,-0.33,-0.4),(1992.48,0.50,0.6),(1992.60,0.26,0.3),(1992.75,-0.57,-0.7),(1992.90,-2.24,-2.6),(1993.03,-3.90,-4.38),
(1993.18,-2.12,-2.4),(1993.33,-1.17,-1.3),(1993.51,-1.40,-1.4),(1993.69,-0.10,0.0),(1993.81,1.21,1.4),(1993.94,1.93,2.3),
(1994.06,1.99,2.58),(N,N,N),
(1994.32,0.80,0.8),(1994.48,0.50,0.5),(1994.64,-0.33,-0.4),(1994.79,-1.52,-1.7),(1994.93,-2.95,-3.3),(1995.03,-4.62,-5.21),
(1995.17,-2.60,-3.0),(1995.33,-1.88,-2.1),(1995.52,-1.46,-1.6),(1995.70,-0.45,-0.5),(1995.86,0.38,0.3),(1996.00,1.21,1.1),
(1996.15,1.33,1.2),(1996.31,0.86,0.9),(1996.46,0.62,0.7),(1996.61,-0.21,-0.2),(1996.76,-1.52,-1.5),(1996.91,-2.95,-2.9),
(1997.04,-4.26,-4.1),(1997.16,-3.67,-3.5),(N,N,N),
(1997.40,-1.17,-1.0),(1997.56,-0.69,-0.5),(1997.73,-0.57,-0.3),(1997.88,0.86,1.0),(1998.07,0.86,1.0),(1998.21,0.98,1.2),
(1998.37,0.86,1.0),(1998.55,0.26,0.3),(1998.74,-0.45,-0.5),(1998.89,-1.52,-1.6),(1999.07,-3.07,-3.2),(1999.22,-1.76,-1.9),
(1999.38,-0.93,-1.0),(1999.55,-0.10,-0.1),(1999.71,1.10,1.0),(1999.83,2.05,1.9),(2000.01,2.88,2.8),(2000.16,1.81,1.7),
(2000.35,0.62,0.6),(2000.56,0.14,0.3),(2000.74,1.10,1.0),(2000.86,2.40,2.2),(2000.98,3.00,2.8),(2001.10,2.64,2.5),
(2001.25,1.69,1.5),(2001.37,1.45,1.4),(2001.53,1.51,1.3),(2001.71,0.62,0.5),(2001.92,-1.52,-1.6),(2002.10,-2.54,-2.8),
(2002.29,-1.05,-1.2),(2002.47,0.02,0.0),(2002.65,0.86,0.9),(2002.84,1.57,1.6),(2002.99,2.29,2.3),(2003.14,2.05,2.1),
(2003.32,1.57,1.7),(2003.48,1.21,1.3),(2003.63,0.98,1.1),(2003.78,0.38,0.4),(2003.93,-1.05,-1.1),(2004.06,-2.60,-2.7),
(2004.18,-1.88,-2.0),(2004.34,-0.57,-0.6),(2004.48,0.38,0.4),(2004.61,0.62,0.6),(2004.75,1.21,1.3),(2004.91,1.81,1.8),
(2005.03,2.76,2.6),(2005.19,2.05,2.0),(2005.34,1.21,1.2),(2005.46,0.62,0.6),(N,N,N),
(2005.70,0.26,0.0),(2005.83,-0.10,-0.2),(2005.97,-1.05,-1.1),(2006.13,-2.12,-2.0),(2006.29,-1.05,-1.2),(2006.44,-0.21,-0.3),
(2006.58,0.38,0.3),(2006.74,0.62,0.6),(2006.92,1.21,1.2),(2007.05,2.29,2.2),(2007.23,1.57,1.5),(2007.39,1.04,1.0),
(2007.54,0.74,0.7),(2007.72,0.14,0.1),(2007.90,-0.81,-0.9),(2008.05,-1.64,-1.8),(2008.17,-2.24,-2.3),(2008.33,-0.69,-0.8),
(N,N,N),
(2008.57,0.14,0.1),(2008.76,0.38,0.4),(2008.94,1.57,1.9),(2009.06,1.93,2.1),(2009.22,0.86,1.0),(2009.37,0.14,0.2),
(2009.55,-0.21,-0.2),(2009.71,-0.10,-0.1),(2009.86,0.98,1.0),(2010.00,3.24,3.4),(2010.16,2.40,2.5),(2010.32,1.57,1.6),
(2010.47,1.21,1.3),(2010.59,1.57,1.1),(2010.73,0.62,0.5),(2010.86,-0.57,-0.9),(N,N,N),
(2010.98,0.02,0.0),(2011.14,0.02,0.2),(2011.32,0.14,0.5),(2011.47,-0.45,-0.5),(2011.62,-0.10,-0.2),(2011.81,1.10,1.2),
(2012.03,3.60,3.7),(2012.17,2.76,2.8),(2012.30,1.81,1.5),(2012.48,1.57,1.7),(2012.66,0.74,0.7),(2012.81,-1.05,-1.1),
(2012.97,-1.76,-1.9),(2013.13,-2.00,-2.1),(2013.27,-1.17,-1.2),(2013.40,-0.33,-0.4),(2013.58,0.14,0.1),(2013.70,0.62,0.5),
(2013.82,0.02,0.9),(2013.94,0.50,1.1),(N,N,N),
(2014.25,0.74,0.7),(2014.43,0.62,0.5),(2014.62,0.02,-0.2),(2014.80,0.38,0.2),(2014.96,1.10,0.9),(2015.10,0.14,0.3),
(2015.29,0.02,0.1),(2015.47,0.38,0.2),(2015.65,0.98,1.1),(2015.78,-0.21,-0.1),(2015.96,-0.57,-0.6),(2016.11,-0.81,-0.9),
(2016.26,-0.33,-0.6),(2016.45,0.14,-0.1),(2016.59,0.50,0.3),(2016.75,-0.10,-0.4),(2016.93,-1.05,-1.5),(2017.08,-1.52,-2.24),
(2017.24,-0.21,-0.4),(2017.40,-0.33,-0.4),(2017.57,-0.45,-0.5),(2017.73,-0.10,0.0),(N,N,N),
(2018.03,2.88,2.6),(2018.13,3.36,3.1),(2018.25,1.81,1.6),(2018.40,1.57,1.4),(2018.58,1.33,1.3),(2018.71,0.26,0.2),
(2018.83,-1.52,-1.8),(2018.95,-2.48,-3.19),(2019.13,-1.64,-2.3),(2019.32,-1.05,-1.6),(2019.50,-0.69,-1.0),(2019.68,-0.33,-0.7),
(2019.86,0.86,0.6),(2020.08,2.52,3.0),(2020.23,1.45,1.6),(2020.41,0.62,0.5),(2020.60,0.38,0.3),(2020.69,0.02,0.0)]

SONI_DOTS = [
(1983.10,-5.64),(1983.34,-2.35),(1983.39,-10.88),(1983.46,-2.47),(1983.58,1.36),(1983.63,-0.25),(1983.70,-3.21),(1983.80,-5.19),
(1983.87,-1.11),(1984.06,0.12),(1984.22,-0.74),(1984.31,7.42),(1985.31,-10.88),(1985.37,-3.21),(1985.43,-7.42),(1985.61,-6.43),
(1985.79,-3.96),(1985.86,-5.93),(1985.92,-4.33),(1986.01,-2.72),(1986.14,-1.48),(1986.28,-3.34),(1986.46,1.48),(1986.52,1.48),
(1986.59,-5.19),(1986.74,-1.98),(1986.77,-3.21),(1986.84,-9.52),(1986.95,-1.73),(1987.01,-3.96),(1987.11,2.84),(1987.19,-5.32),
(1987.28,3.46),(1987.40,2.47),(1987.50,-0.37),(1987.59,-4.95),(1987.68,-5.56),(1987.84,0.25),(1987.92,0.25),(1988.10,-3.96),
(1988.20,-3.46),(1988.26,4.08),(1988.32,-8.53),(1988.44,-7.67),(1988.53,-1.48),(1988.59,2.72),(1988.69,-5.07),(1988.77,-2.35),
(1988.83,-4.57),(1988.93,-3.34),(1989.08,0.49),(1989.17,3.71),(1989.22,-1.24),(1989.32,2.23),(1989.42,7.17),(1989.54,1.24),
(1989.59,5.44),(1989.66,4.45),(1989.74,2.47),(1989.83,2.23),(1989.93,2.23),(1989.99,0.49),(1990.11,-0.49),(1990.23,3.21),
(1990.32,-6.31),(1990.39,-4.45),(1990.56,7.67),(1990.72,1.48),(1990.80,3.34),(1990.87,3.96),(1990.97,4.95),(1991.04,-6.31),
(1991.14,4.2),(1991.24,5.07),(1991.32,4.82),(1991.38,9.03),(1991.81,-3.34),(1991.97,3.21),(1992.05,3.34),(1992.14,0.49),
(1992.23,-0.99),(1992.30,-1.73),(1992.48,4.7),(1992.54,3.96),(1992.60,4.95),(1992.75,0.0),(1992.87,0.0),(1993.03,2.1),
(1993.21,-7.79),(1993.39,-0.62),(1993.47,-3.71),(1993.57,-1.48),(1993.69,-1.73),(1993.88,-5.44),(1993.94,-4.2),(1994.03,-1.48),
(1994.20,4.82),(1994.30,-2.84),(1994.36,3.21),(1994.72,2.1),(1994.81,1.48),(1994.93,2.1),(1995.03,2.84),(1995.13,4.33),
(1995.25,-3.46),(1995.39,-3.46),(1995.45,0.25),(1995.52,-1.73),(1995.61,-6.43),(1995.70,-1.24),(1995.76,0.74),(1995.94,-3.21),
(1996.02,-2.84),(1996.27,-2.72),(1996.58,6.31),(1996.67,1.98),(1996.79,-0.99),(1996.85,-1.48),(1996.95,4.33),(1997.12,1.11),
(1997.24,3.21),(1997.68,-6.31),(1997.76,-0.74),(1997.85,-0.99),(1997.95,1.48),(1998.01,-0.74),(1998.09,-3.21),(1998.25,2.72),
(1998.41,0.25),(1998.49,-1.98),(1998.58,-0.99),(1998.65,-0.74),(1998.74,-0.25),(1998.82,2.23),(1998.94,0.0),(1999.02,-5.19),
(1999.06,-3.46),(1999.16,-5.56),(1999.40,-3.21),(1999.46,-2.97),(1999.55,-1.48),(1999.67,0.25),(1999.83,4.82),(1999.89,2.35),
(1999.99,-0.99),(2000.07,2.47),(2000.25,1.36),(2000.32,-0.37),(2000.47,6.92),(2000.56,0.37),(2000.64,5.56),(2000.74,3.71),
(2000.92,0.99),(2001.04,4.82),(2001.14,5.56),(2001.23,9.03),(2001.29,1.73),(2001.44,5.93),(2001.53,8.41),(2001.69,2.72),
(2001.86,4.33),
(2001.98,3.83),(2002.14,-0.99),(2002.26,-3.34),(2002.38,-3.21),(2002.47,0.0),(2002.59,-0.74),(2002.63,-14.4),(2002.71,-1.85),
(2002.87,3.46),(2003.14,-1.36),(2003.20,1.85),(2003.26,2.72),(2003.39,1.85),(2003.45,4.2),(2003.63,6.92),(2003.69,4.95),
(2003.75,-0.49),(2003.87,-2.47),(2003.99,1.73),(2004.06,1.85),(2004.18,6.18),(2004.26,1.48),(2004.36,-10.39),(2004.43,4.45),
(2004.53,-3.71),(2004.61,2.84),(2004.70,5.56),(2004.79,4.7),(2004.85,2.47),(2005.03,3.46),(2005.09,0.0),(2005.19,4.45),
(2005.24,-0.37),(2005.34,2.97),(2005.49,1.73),(2005.52,5.07),(2005.61,5.69),(2005.89,0.0),(2006.05,2.35),(2006.09,3.34),
(2006.17,-0.74),(2006.25,1.36),(2006.34,2.84),(2006.44,2.23),(2006.50,-0.25),(2006.58,3.59),(2006.74,4.82),(2006.83,5.69),
(2006.92,5.81),(2006.99,4.33),(2007.07,5.07),(2007.19,6.06),(2007.29,2.72),(2007.39,1.24),(2007.47,1.98),(2007.56,-0.25),
(2007.66,-0.74),(2007.76,1.48),(2007.84,-1.73),(2007.96,1.36),(2008.02,3.21),(2008.15,-5.56),(2008.33,-1.24),(2008.57,3.46),
(2009.00,0.99),(2009.06,-1.24),(2009.15,10.14),(2009.55,0.25),(2009.85,1.48),(2009.95,7.67),(2010.04,7.17),(2010.10,2.97),
(2010.20,8.28),(2010.28,5.93),(2010.46,-0.37),(2010.61,0.25),(2010.81,-1.11),(2010.98,-7.29),(2011.14,7.17),(2011.22,-4.7),
(2011.78,0.99),(2011.93,5.93),(2012.11,-2.23),(2012.40,0.25),(2012.60,0.25),(2012.85,-0.12),(2012.97,-5.19),(2013.03,-3.96),
(2013.33,-4.95),(2013.46,-2.6),(2013.52,3.46),(2013.76,1.36),(2014.52,-3.21),(2014.61,0.37),(2014.76,-4.2),(2015.45,3.21),
(2015.57,1.73),(2015.49,-3.71),(2015.69,-4.2),(2015.84,-3.83),(2015.98,-10.14),(2016.18,-9.77),(2016.35,-8.9),(2016.39,-5.07),
(2016.51,-3.21),(2016.67,-0.74),(2016.75,-4.33),(2016.81,-4.95),(2016.91,-12.49),(2017.09,-9.89),(2017.19,-12.61),(2018.16,1.36),
(2018.64,-4.82),(2018.95,-5.81),(2019.56,1.61),(2019.89,-4.2),(2019.96,4.82)]

SONI_LINES = [
(1983.30,-5.19,-5.0),(1983.39,-6.68,-8.41),(1983.51,-2.23,-2.5),(1983.63,-3.46,-3.2),(1983.73,-3.96,-3.8),(1983.85,-4.45,-4.2),
(N,N,N),(1984.19,1.24,1.1),(1984.30,3.46,3.3),(N,N,N),
(1985.28,-4.33,-3.8),(1985.37,-6.92,-6.4),(1985.46,-3.71,-3.9),(1985.58,-4.20,-3.7),(1985.67,-3.21,-2.9),(1985.79,-2.97,-3.2),
(1985.89,-2.47,-2.6),(1986.01,-1.48,-1.2),(1986.14,-2.47,-2.9),(1986.26,-0.49,-0.8),(1986.38,-1.48,-1.0),(1986.50,1.48,1.73),
(1986.59,0.49,0.8),(1986.71,-2.47,-2.2),(1986.86,-4.45,-4.3),(1987.01,-1.48,-1.5),(1987.13,0.99,1.1),(1987.23,2.97,2.8),
(1987.35,1.98,2.1),(1987.47,2.47,2.3),(1987.64,0.99,1.1),(1987.74,0.25,0.0),(1987.86,-2.97,-3.46),(1987.98,-0.49,-0.3),
(1988.10,-3.71,-3.2),(1988.20,-3.20,-3.5),(1988.32,-4.95,-6.43),(1988.49,0.25,0.3),(1988.59,-1.48,-1.0),(1988.74,-1.98,-1.6),
(1988.89,-2.97,-2.7),(1989.01,-0.25,-0.5),(1989.14,0.74,0.7),(1989.26,3.46,3.7),(1989.42,4.20,4.9),(1989.54,2.47,2.6),
(1989.68,1.48,1.6),(1989.83,-0.99,-1.1),(1989.99,0.74,1.0),(1990.15,1.73,1.5),(1990.29,-3.46,-3.0),(1990.41,-1.98,-0.5),
(1990.56,-1.48,-1.0),(1990.72,-0.25,-1.5),(1990.90,1.24,1.5),(1991.04,-0.99,-0.6),(1991.17,-1.48,-1.2),(1991.29,-0.49,0.2),
(1991.38,1.48,3.71),(N,N,N),
(1991.97,1.24,1.5),(1992.11,3.71,3.9),(1992.23,0.00,-0.5),(1992.36,1.48,1.2),(1992.50,2.35,2.0),(1992.72,0.74,0.5),(N,N,N),
(1993.39,-3.46,-5.69),(1993.51,-1.98,-2.3),(1993.63,-2.47,-2.6),(1993.76,-1.98,-1.9),(1993.88,-0.99,-0.8),(1993.96,0.74,0.9),
(N,N,N),(1994.20,4.45,4.5),(1994.36,2.97,3.4),(N,N,N),
(1994.72,2.23,2.4),(1994.85,-0.25,0.0),(1995.03,-2.23,-2.2),(1995.15,-3.46,-3.5),(1995.25,-6.18,-7.67),(1995.33,-3.96,-4.2),
(1995.46,-1.48,-1.7),(1995.58,-2.47,-3.46),(1995.74,-0.49,-0.6),(1995.86,0.99,1.0),(1995.94,0.49,0.6),(N,N,N),
(1996.58,2.23,2.0),(1996.73,1.73,2.0),(1996.88,0.49,0.6),(1997.03,-0.25,-0.3),(1997.22,-4.20,-4.0),(N,N,N),
(1997.64,-1.73,-1.5),(1997.76,0.49,0.7),(1997.89,1.24,1.6),(1998.01,1.73,1.5),(1998.16,0.74,0.9),(1998.31,2.72,2.9),
(1998.46,2.97,3.2),(1998.61,2.47,2.4),(1998.80,1.73,1.9),(1998.94,0.49,0.3),(1999.10,-0.25,-0.2),(1999.22,-1.24,-1.3),
(1999.34,-0.74,-0.4),(1999.46,0.00,0.2),(1999.65,1.24,1.1),(N,N,N),
(1999.79,3.46,3.6),(1999.89,2.97,3.0),(2000.04,3.21,3.4),(N,N,N),
(2000.19,5.69,5.9),(2000.32,4.95,4.5),(2000.47,2.72,2.9),(2000.62,3.46,3.3),(2000.76,2.97,2.7),(2000.92,4.70,5.2),
(2001.04,6.68,6.4),(2001.17,5.69,4.8),(2001.29,4.95,3.9),(2001.41,5.93,5.6),(2001.53,4.95,7.17),(2001.65,3.96,4.6),
(2001.83,3.21,3.4),(2001.92,2.72,2.5),(2002.04,-0.25,-0.1),(2002.19,-0.99,-1.3),(2002.35,-1.98,-3.71),(2002.47,-0.49,-0.7),
(2002.63,0.49,0.3),(2002.71,2.72,2.6),(2002.90,2.23,2.0),(2003.14,4.20,3.6),(2003.33,2.97,3.2),(2003.51,3.71,3.4),
(2003.65,3.21,3.6),(2003.81,0.99,0.9),(2003.99,1.24,1.4),(2004.18,-0.49,-0.5),(2004.34,-2.23,-2.4),(2004.48,0.00,0.2),
(2004.67,2.72,2.9),(2004.85,0.74,0.7),(2005.03,3.71,3.6),(2005.22,1.24,1.0),(2005.34,2.23,2.0),(2005.46,1.48,1.2),
(2005.58,0.00,0.1),(N,N,N),
(2005.89,2.47,2.6),(2006.07,0.99,1.2),(2006.25,-1.24,-1.0),(2006.34,-2.97,-2.6),(2006.44,-0.99,-0.9),(2006.56,-0.25,-0.2),
(N,N,N),
(2006.92,-0.25,-0.1),(2007.11,1.48,1.6),(2007.23,2.72,2.5),(2007.39,0.99,1.0),(2007.54,1.73,1.9),(2007.66,0.99,0.8),
(2007.78,1.48,1.3),(2007.90,0.00,0.2),(2008.02,-0.49,-0.4),(2008.15,-1.24,-1.0),(N,N,N),
(2009.00,0.25,-0.2),(2009.12,2.47,2.72),(N,N,N),
(2009.79,-1.24,-0.5),(2010.10,4.33,4.2),(2010.28,0.25,0.4),(N,N,N),
(2010.61,3.09,2.8),(2010.77,0.00,0.2),(N,N,N),
(2011.10,-0.49,-0.4),(2011.20,-2.47,-2.4),(N,N,N),
(2012.78,-0.25,-0.3),(2012.97,-1.98,-1.85),(N,N,N),
(2013.33,-3.71,-3.5),(2013.52,0.25,0.3),(N,N,N),
(2014.49,1.48,1.6),(2014.59,-0.49,-0.3),(N,N,N),
(2015.41,-0.74,-1.2),(2015.57,0.99,1.1),(2015.78,-3.71,-3.5),(N,N,N),
(2016.20,-6.43,-6.0),(2016.44,-0.49,-0.8),(2016.69,-0.74,-0.6),(2016.87,-4.95,-4.5),(N,N,N),
(2017.06,-4.45,-4.6),(2017.19,-6.68,-8.78),(N,N,N),
(2018.90,-5.60,-5.6),(2018.98,-5.90,-5.9),(N,N,N),
(2019.86,-2.47,-1.9),(2019.96,0.25,1.10)]

SONAK_DOTS = [
(1983.05,-17.57),(1983.30,-4.09),(1983.39,-18.11),(1983.43,-9.03),(1983.55,-5.56),(1983.61,-10.5),(1983.67,-1.23),(1983.79,-6.81),
(1983.87,-13.57),(1984.03,-12.9),(1984.28,-7.83),(1985.37,-2.22),(1985.43,-9.83),(1985.58,-2.03),(1985.67,-14.24),(1985.77,-15.17),
(1985.86,-9.7),(1985.92,-6.89),(1986.01,-13.03),(1986.10,-10.1),(1986.18,-10.63),(1986.28,-7.69),(1986.34,-10.1),(1986.43,-10.63),
(1986.50,-9.83),(1986.58,-15.3),(1986.71,-11.97),(1986.77,-6.49),(1986.83,-18.86),(1986.91,-12.9),(1987.01,1.39),(1987.11,-3.55),
(1987.19,-4.22),(1987.25,0.0),(1987.40,-10.5),(1987.43,-11.97),(1987.47,-6.89),(1987.59,-13.43),(1987.65,-4.09),(1987.76,-13.3),
(1987.84,-1.01),(1987.98,-5.69),(1988.08,-4.62),(1988.13,-9.88),(1988.23,-2.22),(1988.32,-11.97),(1988.41,-11.83),(1988.49,-12.23),
(1988.53,-0.48),(1988.65,-4.09),(1988.71,-0.48),(1988.83,-0.75),(1988.93,-9.29),(1988.98,0.72),(1989.10,-1.01),(1989.16,-8.36),
(1989.22,-9.96),(1989.32,-2.08),(1989.40,6.46),(1989.47,-5.02),(1989.56,-8.23),(1989.62,-5.02),(1989.71,-5.96),(1989.83,-5.42),
(1989.90,-1.15),(1989.99,-6.62),(1990.05,2.06),(1990.13,4.33),(1990.23,3.13),(1990.29,2.59),(1990.47,4.99),(1990.53,3.93),
(1990.62,1.66),(1990.72,2.72),(1990.80,4.59),(1990.90,3.66),(1991.02,3.66),(1991.14,3.53),(1991.22,4.99),(1991.38,4.19),
(1991.81,2.72),(1991.97,3.53),(1992.05,3.13),(1992.14,1.39),(1992.23,1.66),(1992.48,4.73),(1992.54,4.99),(1992.60,4.86),
(1992.57,3.66),(1992.66,1.79),(1992.78,1.52),(1992.90,1.26),(1992.99,0.99),(1993.18,-3.29),(1993.35,2.99),(1993.45,3.53),
(1993.55,3.53),(1993.69,2.86),(1993.84,-0.61),(1994.03,1.26),(1994.20,3.79),(1994.28,-1.95),(1994.34,4.99),(1994.67,4.46),
(1994.76,3.93),(1994.85,4.19),(1994.93,4.33),(1995.03,2.32),(1995.09,3.13),(1995.18,0.99),(1995.25,-2.35),(1995.39,0.99),
(1995.49,2.32),(1995.58,-2.22),(1995.70,3.53),(1995.76,2.06),(1995.86,2.46),(1995.91,-0.08),(1996.00,1.26),(1996.24,1.66),
(1996.58,3.93),(1996.67,2.86),(1996.79,0.99),(1996.91,4.33),(1997.16,0.45),(1997.24,3.53),(1997.64,-0.88),(1997.70,2.06),
(1997.83,0.85),(1998.01,2.06),(1998.07,-1.28),(1998.13,0.85),(1998.21,2.72),(1998.31,2.99),(1998.41,3.13),(1998.49,0.99),
(1998.58,2.06),(1998.63,-3.55),(1998.74,0.45),(1998.80,3.53),(1998.89,2.06),(1998.98,-4.22),(1999.04,-1.01),(1999.16,-3.55),
(1999.22,0.72),(1999.34,1.79),(1999.38,-1.55),(1999.53,2.72),(1999.62,3.53),(1999.79,5.26),(1999.87,2.99),(1999.95,-0.21),
(2000.04,2.72),(2000.13,2.99),(2000.28,2.06),(2000.38,5.4),(2000.46,6.46),(2000.50,3.26),(2000.62,2.72),(2000.72,2.59),
(2000.84,2.19),(2000.92,2.06),(2001.04,2.59),(2001.13,4.99),(2001.20,5.93),(2001.29,3.53),(2001.41,4.19),(2001.59,4.59),
(2001.69,3.13),(2001.86,1.39),
(2001.88,4.59),(2002.02,1.26),(2002.10,-1.01),(2002.23,1.39),(2002.31,0.85),(2002.35,1.52),(2002.59,-7.96),(2002.68,-1.42),
(2002.78,1.26),(2002.84,2.32),(2003.12,2.46),(2003.20,2.99),(2003.26,3.79),(2003.39,3.26),(2003.60,6.33),(2003.69,4.33),
(2003.75,0.72),(2003.85,-0.88),(2003.99,0.45),(2004.12,2.46),(2004.18,1.66),(2004.24,1.39),(2004.34,-2.48),(2004.42,3.26),
(2004.51,-0.48),(2004.58,3.53),(2004.70,4.33),(2004.75,4.73),(2004.83,3.26),(2005.03,1.39),(2005.16,4.46),(2005.24,-0.08),
(2005.28,4.59),(2005.36,4.19),(2005.44,3.93),(2005.52,3.53),(2005.83,2.19),(2005.92,0.59),(2006.01,1.66),(2006.07,4.33),
(2006.17,0.59),(2006.25,2.06),(2006.31,3.13),(2006.41,3.13),(2006.50,3.13),(2006.56,4.59),(2006.74,3.26),(2006.83,3.26),
(2006.92,4.06),(2007.02,3.53),(2007.11,4.46),(2007.17,4.86),(2007.23,4.19),(2007.29,3.79),(2007.39,4.06),(2007.47,2.19),
(2007.56,2.06),(2007.63,2.19),(2007.72,1.12),(2007.84,0.45),(2007.96,-0.21),(2008.02,2.46),(2008.12,1.39),(2008.24,1.39),
(2008.54,3.26),(2009.00,1.26),(2009.12,5.4),(2009.51,1.92),(2009.79,2.72),(2009.95,4.86),(2010.16,5.53),(2010.25,3.53),
(2010.34,3.26),(2010.44,3.13),(2010.56,3.13),(2010.73,1.79),(2010.83,1.26),(2010.93,0.85),(2011.14,4.33),(2011.20,2.06),
(2011.75,1.92),(2011.93,3.93),(2012.08,3.79),(2012.33,3.26),(2012.60,2.06),(2012.85,0.59),(2012.93,-0.35),(2012.97,0.19),
(2013.37,2.32),(2013.49,3.39),(2013.74,2.32),(2014.52,2.72),(2014.61,1.52),(2014.76,1.52),(2015.41,2.72),(2015.47,0.59),
(2015.59,1.92),(2015.71,2.72),(2015.81,0.72),(2015.96,1.79),(2016.18,-2.08),(2016.33,-2.88),(2016.39,-2.35),(2016.54,1.66),
(2016.69,1.66),(2016.79,-0.88),(2016.87,0.59),(2017.06,2.46),(2017.15,-0.75),(2018.13,3.79),(2018.62,1.79),(2018.83,-0.21),
(2018.95,1.52),(2019.50,2.59),(2019.86,1.79),(2019.93,4.99)]

SONAK_LINES = [
(1983.27,-9.29,-9.0),(1983.37,-11.97,-12.5),(1983.51,-10.63,-10.9),(1983.70,-8.63,-9.3),(1983.85,-11.97,-11.6),(N,N,N),
(1984.19,-7.16,-7.1),(1984.31,-7.83,-7.6),(N,N,N),
(1985.25,-10.90,-11.1),(1985.33,-11.70,-11.5),(1985.45,-10.10,-10.2),(1985.61,-9.03,-8.23),(1985.77,-9.70,-10.2),
(1985.92,-11.43,-11.7),(1986.04,-9.03,-9.3),(1986.16,-7.69,-8.6),(1986.28,-9.03,-8.8),(1986.38,-7.96,-7.7),(1986.50,-8.36,-8.6),
(1986.65,-8.23,-8.2),(1986.79,-9.56,-9.5),(1986.91,-10.63,-10.4),(1987.07,-5.56,-5.6),(1987.19,-4.22,-4.3),(1987.35,-6.62,-6.5),
(1987.50,-6.62,-6.8),(1987.64,-5.29,-5.7),(1987.74,-6.36,-6.1),(1987.86,-7.43,-7.0),(1987.98,-6.36,-6.2),(1988.10,-6.89,-6.7),
(1988.23,-7.43,-8.1),(1988.37,-5.29,-5.3),(1988.49,-4.75,-4.6),(1988.65,-4.75,-4.9),(1988.83,-5.56,-5.8),(1988.95,-3.15,-3.2),
(1989.08,-1.55,-1.7),(1989.20,-1.82,-1.9),(1989.32,-1.28,-1.3),(1989.44,-2.35,-2.5),(1989.56,-1.28,-1.2),(1989.71,-1.82,-2.0),
(1989.83,-2.88,-3.4),(1989.99,-1.01,-1.1),(1990.11,0.05,-0.2),(1990.27,-1.01,-1.1),(1990.39,-0.48,-0.3),(1990.53,-1.01,-1.1),
(1990.66,-0.48,-0.6),(1990.80,-0.61,-0.7),(1990.90,-0.08,-0.3),(1991.04,-0.75,-0.9),(1991.14,-1.01,-1.1),(1991.26,0.32,0.5),
(1991.36,1.79,2.99),(N,N,N),
(1991.93,1.39,1.5),(1992.02,2.59,2.8),(1992.14,1.66,1.8),(1992.26,1.92,1.6),(1992.42,1.39,1.8),(1992.54,1.12,1.0),
(1992.66,-0.21,-0.5),(N,N,N),
(1993.35,0.85,0.5),(1993.47,0.19,0.4),(1993.60,-0.35,-0.1),(1993.72,0.32,0.1),(1993.88,1.66,1.5),(1994.00,2.32,2.3),(N,N,N),
(1994.18,2.06,1.9),(1994.30,2.46,2.4),(N,N,N),
(1994.67,1.26,1.0),(1994.79,1.79,1.9),(1994.91,0.99,0.7),(1995.03,-0.21,-0.6),(1995.15,-1.28,-1.95),(1995.30,0.85,0.4),
(1995.39,2.19,1.8),(1995.52,-0.21,0.0),(1995.64,1.92,1.5),(1995.78,2.46,2.6),(1995.94,3.66,3.4),(N,N,N),
(1996.55,1.92,1.6),(1996.67,2.72,2.9),(1996.79,3.53,3.4),(1996.91,4.19,4.2),(N,N,N),
(1997.03,2.19,2.3),(1997.16,1.12,1.5),(N,N,N),
(1997.64,4.19,4.4),(1997.76,4.86,5.0),(1997.88,5.53,5.2),(1998.01,4.33,4.1),(1998.16,3.53,3.3),(1998.31,4.59,4.3),
(1998.46,3.79,3.6),(1998.61,2.72,2.6),(1998.77,3.53,3.5),(1998.91,0.59,0.4),(1999.04,-0.21,-0.9),(1999.19,1.39,1.1),
(1999.31,2.72,2.4),(1999.47,3.26,3.0),(1999.65,3.26,3.1),(1999.79,3.79,3.6),(1999.89,2.32,2.0),(2000.04,2.72,2.6),
(2000.19,2.99,2.8),(2000.38,3.53,3.0),(2000.47,4.46,3.9),(2000.59,3.26,3.0),(2000.74,2.59,2.6),(2000.86,3.26,3.0),
(2000.98,3.39,3.6),(2001.10,4.46,4.0),(2001.23,4.06,4.3),(2001.35,5.40,6.2),(2001.47,4.86,5.3),(2001.59,3.79,3.5),
(2001.71,4.59,4.3),(2001.90,3.53,3.3),(2001.98,1.39,0.32),(2002.10,2.72,2.3),(2002.29,4.06,3.7),(2002.41,4.73,4.4),
(2002.53,3.39,3.9),(2002.65,4.33,4.86),(2002.78,3.93,3.6),(N,N,N),
(2003.08,4.06,3.9),(2003.20,3.26,3.4),(2003.36,3.39,3.2),(2003.51,2.72,2.9),(2003.65,1.66,1.9),(2003.75,1.39,1.2),
(2003.87,0.99,1.2),(2003.99,1.26,1.1),(2004.12,2.46,2.7),(2004.24,1.79,1.5),(2004.36,2.72,2.99),(2004.48,2.32,2.0),
(2004.61,2.86,3.2),(2004.75,2.19,2.4),(2004.87,1.66,1.6),(2005.03,2.59,2.3),(2005.16,2.72,2.9),(2005.28,1.39,1.6),
(2005.40,1.92,1.6),(2005.52,0.32,0.6),(N,N,N),
(2005.77,0.32,0.4),(2005.89,1.39,1.1),(2006.01,1.79,1.9),(2006.13,1.12,1.0),(2006.25,1.79,2.0),(2006.38,1.92,1.6),
(2006.50,0.85,0.7),(N,N,N),
(2006.86,-0.21,0.0),(2007.02,1.12,1.0),(2007.15,2.59,2.3),(2007.29,1.66,1.9),(2007.41,0.99,1.2),(2007.54,1.39,1.2),
(2007.66,0.85,0.6),(2007.78,-0.21,0.1),(2007.90,0.05,-0.2),(2008.02,1.12,1.4),(2008.15,1.52,1.4),(N,N,N),
(2008.94,-0.21,-0.61),(2009.12,2.46,2.3),(N,N,N),
(2009.76,1.12,1.3),(2009.92,2.99,3.2),(2010.04,4.59,4.4),(2010.16,3.26,3.5),(2010.28,1.52,1.3),(N,N,N),
(2010.59,1.79,1.6),(2010.77,0.59,0.7),(N,N,N),
(2011.08,1.92,1.7),(2011.16,2.19,2.1),(N,N,N),
(2012.81,0.85,0.8),(2013.00,3.26,3.0),(N,N,N),
(2013.27,2.46,2.8),(2013.40,2.19,2.6),(N,N,N),
(2014.47,1.92,2.1),(2014.55,2.99,3.2),(N,N,N),
(2015.35,2.72,2.9),(2015.53,4.19,4.46),(2015.69,2.72,2.9),(2015.84,0.85,0.9),(N,N,N),
(2016.20,1.12,1.0),(2016.35,1.52,1.4),(2016.51,1.66,1.5),(2016.63,2.72,2.4),(2016.75,0.85,0.7),(2016.87,-0.21,-0.2),(N,N,N),
(2017.00,1.66,1.9),(2017.06,2.59,2.8),(N,N,N),
(2018.77,-0.21,-0.61),(2018.95,2.32,2.1),(N,N,N),
(2019.84,1.79,2.19),(2019.93,5.80,5.3)]

PANEL_DOTS = [UMK_DOTS, COHI_DOTS, COHAK_DOTS, SONI_DOTS, SONAK_DOTS]
PANEL_LINES = [UMK_LINES, COHI_LINES, COHAK_LINES, SONI_LINES, SONAK_LINES]

# ---------------- LAYOUT (pixel geometry of the page) ----------------
W, H = 2165, 1937
X_LEFT_PX = 152.5
PANEL_PX = [(99.3, 433.3), (461.7, 796.7), (828.3, 1163.3), (1192.3, 1528.3), (1550.7, 1887.7)]
YLABEL_X_PX = [71, 47, 44, 50, 49]
NAME_POS_PX = [(2106, 397), (2122, 745), (2115, 1120), (1841, 1488), (2119, 1847)]

BLUE = "#1f77b4"
ORANGE = "#ff7f0e"
AXIS_COL = "#262626"
TEXT_COL = "#333333"
TICK_FONT = dict(family="DejaVu Sans", size=23, color=TEXT_COL)

fig = go.Figure()
for i in range(5):
    sfx = "" if i == 0 else str(i + 1)
    xa, ya = "x" + sfx, "y" + sfx
    dots = PANEL_DOTS[i]
    lines = PANEL_LINES[i]
    fig.add_trace(go.Scatter(x=[d[0] for d in dots], y=[d[1] for d in dots], mode="markers",
                             marker=dict(color="black", size=11.5, line=dict(width=0)),
                             xaxis=xa, yaxis=ya, hoverinfo="skip"))
    fig.add_trace(go.Scatter(x=[r[0] for r in lines], y=[r[2] for r in lines], mode="lines",
                             line=dict(color=BLUE, width=2.8), connectgaps=False,
                             xaxis=xa, yaxis=ya, hoverinfo="skip"))
    fig.add_trace(go.Scatter(x=[r[0] for r in lines], y=[r[1] for r in lines], mode="lines",
                             line=dict(color=ORANGE, width=2.8), connectgaps=False,
                             xaxis=xa, yaxis=ya, hoverinfo="skip"))
    fig.add_shape(type="line", xref=f"{xa} domain", yref=ya, x0=0, x1=1, y0=0, y1=0,
                  line=dict(color="black", width=3, dash="13px,8px"), layer="above")

    top_px, bot_px = PANEL_PX[i]
    dom = [1 - bot_px / H, 1 - top_px / H]
    last = (i == 4)
    fig.update_layout(**{
        "xaxis" + sfx: dict(domain=[X_LEFT_PX / W, 1.0], range=X_RANGE, anchor=ya,
                            showline=True, linecolor=AXIS_COL, linewidth=2.5, mirror=True,
                            showgrid=False, zeroline=False, automargin=False,
                            ticks="outside" if last else "", ticklen=8, tickwidth=1.8, tickcolor=AXIS_COL,
                            tickvals=X_TICKS if last else [], ticktext=[str(t) for t in X_TICKS] if last else [],
                            showticklabels=last, tickfont=TICK_FONT),
        "yaxis" + sfx: dict(domain=dom, range=Y_RANGES[i], anchor=xa,
                            showline=True, linecolor=AXIS_COL, linewidth=2.5, mirror=False,
                            showgrid=False, zeroline=False, automargin=False,
                            ticks="outside", ticklen=8, tickwidth=1.8, tickcolor=AXIS_COL,
                            tickvals=Y_TICKS[i], ticktext=Y_TICKTEXT[i], tickfont=TICK_FONT),
    })
    cy = (top_px + bot_px) / 2
    fig.add_annotation(text=Y_LABEL, xref="paper", yref="paper", x=YLABEL_X_PX[i] / W, y=1 - cy / H,
                       xanchor="center", yanchor="middle", textangle=-90, showarrow=False,
                       font=dict(family="DejaVu Sans", size=25, color=TEXT_COL))
    nx, ny = NAME_POS_PX[i]
    fig.add_annotation(text=PANEL_NAMES[i], xref="paper", yref="paper", x=nx / W, y=1 - ny / H,
                       xanchor="right", yanchor="middle", showarrow=False,
                       font=dict(family="Lato", size=43, color="black"))

fig.add_annotation(text=TITLE, xref="paper", yref="paper", x=162 / W, y=1 - 48 / H,
                   xanchor="left", yanchor="middle", showarrow=False,
                   font=dict(family="Lato", size=44, color="black"))

fig.update_layout(width=W, height=H, margin=dict(l=0, r=0, t=0, b=0),
                  paper_bgcolor="white", plot_bgcolor="white", showlegend=False)

fig.write_html("out.html", config={"displayModeBar": False, "staticPlot": True},
               post_script="document.body.style.margin='0px';document.body.style.overflow='hidden';")
